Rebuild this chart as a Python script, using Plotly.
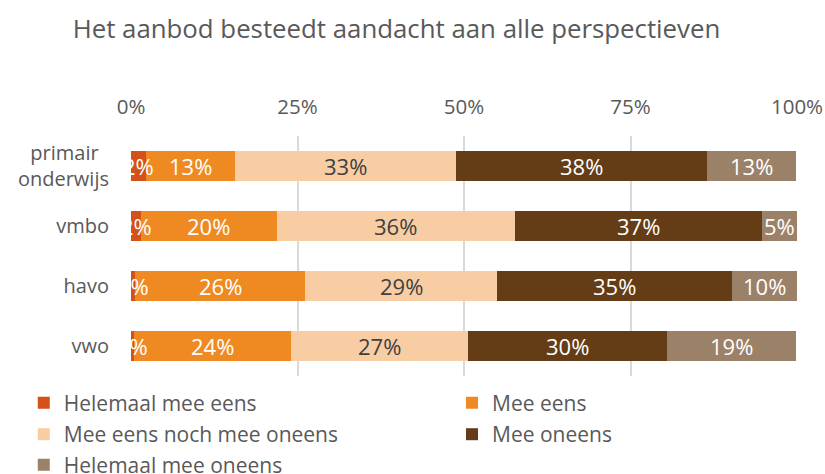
import plotly.graph_objects as go

categories = ["primair\u00a0\u00a0<br>onderwijs", "vmbo", "havo", "vwo"]
series_names = ["Helemaal mee eens", "Mee eens", "Mee eens noch mee oneens", "Mee oneens", "Helemaal mee oneens"]
helemaal_mee_eens = [2.3, 1.5, 0.6, 0.4]
mee_eens = [13.3, 20.4, 25.6, 23.6]
neutraal = [33.2, 35.7, 28.8, 26.6]
mee_oneens = [37.7, 37.2, 35.3, 29.9]
helemaal_mee_oneens = [13.4, 5.2, 9.7, 19.4]
tick_values = [0, 25, 50, 75, 100]
tick_labels = ["0%", "25%", "50%", "75%", "100%"]

series = [helemaal_mee_eens, mee_eens, neutraal, mee_oneens, helemaal_mee_oneens]
colors = ["#D4511A", "#EF8A22", "#F8CDA3", "#643D16", "#9C8169"]
label_colors = ["white", "white", "#404040", "white", "white"]
legend_ids = ["legend", "legend2", "legend3", "legend4", "legend5"]
# legend grid: (column, row) for each series
legend_cells = [(0, 0), (1, 0), (0, 1), (1, 1), (0, 2)]

FONT = "Open Sans"
GREY = "#595959"
fig = go.Figure()
for name, vals, col, lg in zip(series_names, series, colors, legend_ids):
    fig.add_trace(go.Bar(
        y=categories, x=vals, name=name, orientation="h", legend=lg,
        marker=dict(color=col, line=dict(width=0)),
    ))

# data labels as annotations centred on each segment (drawn above all bars)
annotations = []
for i, cat in enumerate(categories):
    cum = 0.0
    for vals, lc in zip(series, label_colors):
        v = vals[i]
        annotations.append(dict(
            x=cum + v / 2, y=cat, xref="x", yref="y",
            text=f"{round(v):d}%", showarrow=False,
            font=dict(family=FONT, size=22, color=lc),
        ))
        cum += v

col_x = [-0.161, 0.482]
row_y = [-0.1125, -0.244, -0.371]
legends = {}
for lg, (c, r) in zip(legend_ids, legend_cells):
    legends[lg] = dict(orientation="h", x=col_x[c], xanchor="left", y=row_y[r], yanchor="middle",
                       itemwidth=30, bgcolor="rgba(0,0,0,0)",
                       font=dict(family=FONT, size=21, color=GREY))

fig.update_layout(
    width=825, height=474,
    margin=dict(l=131, r=28, t=136, b=98, autoexpand=False),
    paper_bgcolor="white", plot_bgcolor="white",
    barmode="stack", bargap=0.5,
    title=dict(text="Het aanbod besteedt aandacht aan alle perspectieven",
               x=0.4806, xanchor="center", y=0.938, yanchor="middle",
               font=dict(family=FONT, size=25.8, color=GREY)),
    font=dict(family=FONT, color=GREY),
    annotations=annotations,
    xaxis=dict(range=[0, 100], side="top", tickvals=tick_values, ticktext=tick_labels,
               showgrid=True, gridcolor="#D9D9D9", gridwidth=1.5, zeroline=False,
               showline=False, ticks="", ticklabelstandoff=17, automargin=False,
               tickfont=dict(family=FONT, size=20.5, color=GREY), fixedrange=True),
    yaxis=dict(autorange="reversed", showgrid=False, zeroline=False, showline=False,
               ticks="", ticklabelstandoff=21, automargin=False,
               tickfont=dict(family=FONT, size=20, color=GREY)),
    showlegend=True,
    **legends,
)

# remove the browser's default 8px page margin so the 825x474 figure fills the window
fig.write_html("out.html", config={"displayModeBar": False},
               post_script="document.body.style.margin='0';")
